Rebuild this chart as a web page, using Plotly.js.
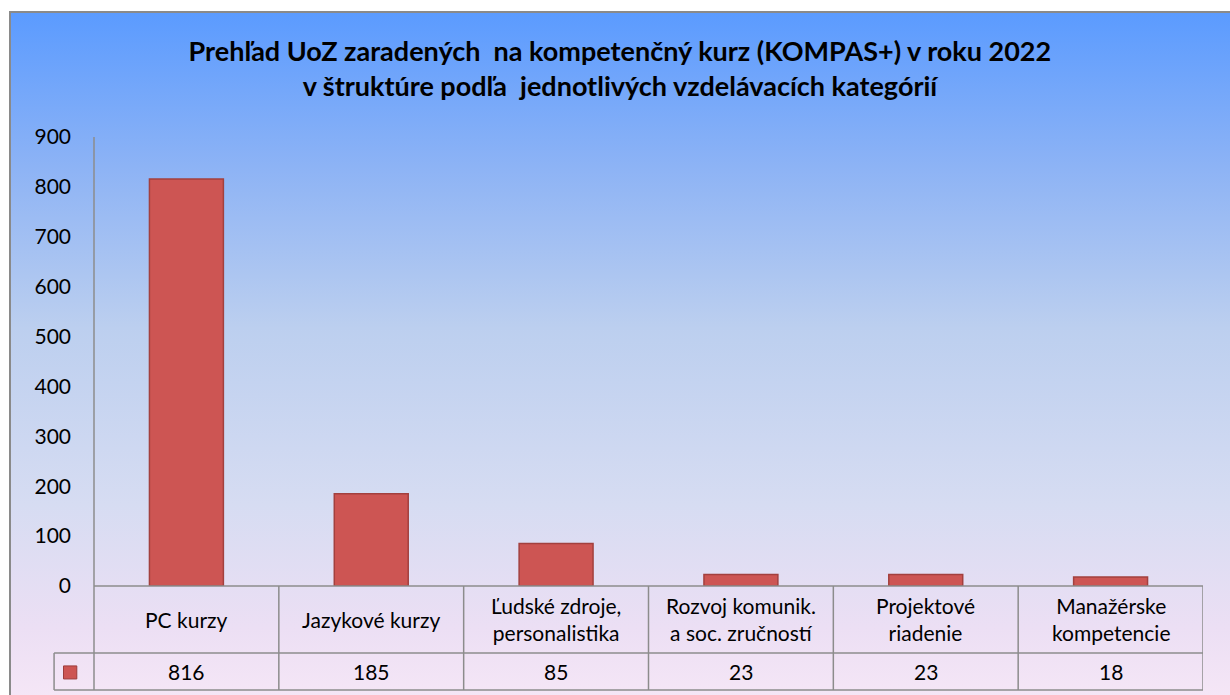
<!DOCTYPE html>
<html><head><meta charset="utf-8">
<script src="https://cdn.plot.ly/plotly-3.0.1.min.js"></script>
<style>
html,body{margin:0;padding:0;background:#fff;width:1230px;height:695px;overflow:hidden;}
#bg{position:absolute;left:9px;top:11px;width:1230px;height:700px;border-left:2px solid #8a8a8a;border-top:2px solid #8a8a8a;
background:linear-gradient(to bottom,#5b9bff 0%,#8db3f5 22%,#bccfef 45%,#d6dcf2 70%,#ecdff4 88%,#f7e8f7 100%);}
#chart{position:absolute;left:0;top:0;width:1230px;height:695px;}
</style></head>
<body><div id="bg"></div><div id="chart"></div>
<script>
const categories = ["PC kurzy","Jazykové kurzy","Ľudské zdroje,<br>personalistika","Rozvoj komunik.<br>a soc. zručností","Projektové<br>riadenie","Manažérske<br>kompetencie"];
const values = [816,185,85,23,23,18];
const yTicks = [0,100,200,300,400,500,600,700,800,900];

const FONT = "Lato, 'Noto Sans', sans-serif";
const idx = categories.map((c,i)=>i);
const lineCol = "#8c8c8c";
const shapes = [];
const rowTop = 0, rowMid = -0.149, rowBot = -0.2316, keyLeft = -0.036;
shapes.push({type:"line",xref:"paper",yref:"paper",x0:0,x1:1,y0:rowTop,y1:rowTop,line:{color:lineCol,width:1.5}});
shapes.push({type:"line",xref:"paper",yref:"paper",x0:keyLeft,x1:1,y0:rowMid,y1:rowMid,line:{color:lineCol,width:1.5}});
shapes.push({type:"line",xref:"paper",yref:"paper",x0:keyLeft,x1:1,y0:rowBot,y1:rowBot,line:{color:lineCol,width:1.5}});
shapes.push({type:"line",xref:"paper",yref:"paper",x0:keyLeft,x1:keyLeft,y0:rowMid,y1:rowBot,line:{color:lineCol,width:1.5}});
shapes.push({type:"line",xref:"paper",yref:"paper",x0:0,x1:0,y0:1,y1:rowBot,line:{color:lineCol,width:1.5}});
idx.forEach(i=>{
  shapes.push({type:"line",xref:"x",yref:"paper",x0:i+0.5,x1:i+0.5,y0:rowTop,y1:rowBot,line:{color:lineCol,width:1.5}});
});
shapes.push({type:"rect",xref:"paper",yref:"paper",x0:-0.0275,x1:-0.0155,y0:-0.178,y1:-0.207,fillcolor:"#cd5553",line:{color:"#9c3d3b",width:1}});

const annotations = [];
idx.forEach(i=>{
  annotations.push({x:i,y:rowMid/2,xref:"x",yref:"paper",text:categories[i],showarrow:false,font:{family:FONT,size:21,color:"#000"},align:"center",yanchor:"middle"});
  annotations.push({x:i,y:(rowMid+rowBot)/2,xref:"x",yref:"paper",text:String(values[i]),showarrow:false,font:{family:FONT,size:21,color:"#000"},yanchor:"middle"});
});

const data = [{
  type:"bar", x:idx, y:values, width:0.4,
  marker:{color:"#cd5553",line:{color:"#a3403e",width:1.5}},
  hoverinfo:"skip"
}];

const layout = {
  width:1230,height:695,
  margin:{l:94,r:27,t:137,b:109},
  paper_bgcolor:"rgba(0,0,0,0)",plot_bgcolor:"rgba(0,0,0,0)",
  showlegend:false,
  title:{text:"<b>Prehľad UoZ zaradených  na kompetenčný kurz (KOMPAS+) v roku 2022<br>v štruktúre podľa  jednotlivých vzdelávacích kategórií</b>",
    xref:"container",x:0.504,xanchor:"center",yref:"container",y:0.912,yanchor:"middle",
    font:{family:FONT,size:27,color:"#000"}},
  xaxis:{range:[-0.5,5.5],showticklabels:false,showgrid:false,zeroline:false,showline:false,ticks:"",fixedrange:true},
  yaxis:{range:[0,900],tickvals:yTicks,ticktext:yTicks.map(String),showgrid:false,zeroline:false,showline:false,ticks:"",
    ticklabelstandoff:22,tickfont:{family:FONT,size:21,color:"#000"},fixedrange:true},
  shapes:shapes,annotations:annotations
};
Plotly.newPlot("chart",data,layout,{displayModeBar:false,staticPlot:true});
</script></body></html>
